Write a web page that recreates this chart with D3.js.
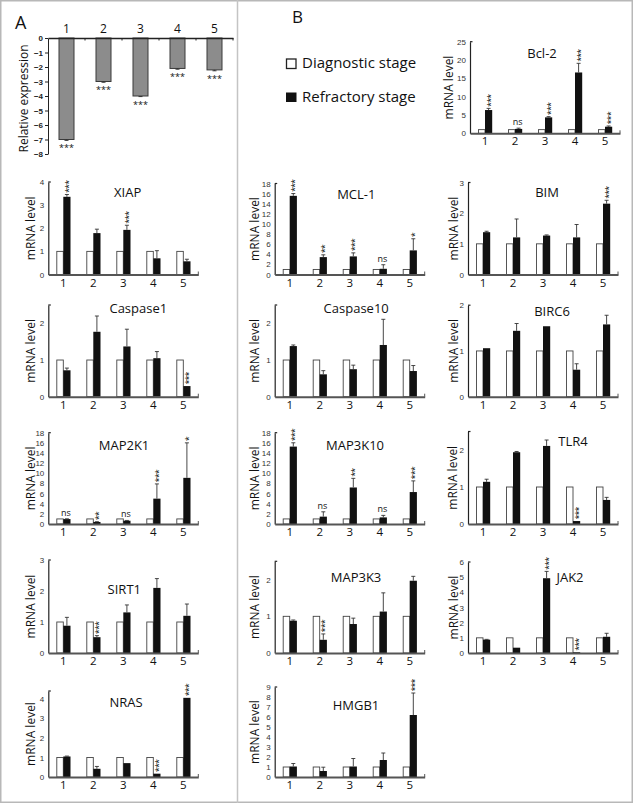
<!DOCTYPE html>
<html><head><meta charset="utf-8">
<script src="https://cdn.jsdelivr.net/npm/d3@7"></script>
<style>
body{margin:0;background:#fff}
svg{display:block}
text{font-family:"Open Sans",sans-serif;fill:#111}
.tick text{font-family:"Liberation Sans",Arial,sans-serif;fill:#333}
</style>
</head><body>
<svg id="c" width="633" height="803"></svg>
<script>
// ---------- DATA ----------
const categories = ["1","2","3","4","5"];

// Panel A: relative expression
const relExpression    = [-7.0, -3.0, -4.0, -2.1, -2.2];
const relExpressionErr = [0.06, 0.05, 0.04, 0.05, 0.06];
const relSig           = ["***","***","***","***","***"];
const relTicks         = [0,-1,-2,-3,-4,-5,-6,-7,-8];

// Panel B: mRNA levels (diagnostic stage = 1, refractory stage values below)
const genes = ["Bcl-2","XIAP","MCL-1","BIM","Caspase1","Caspase10","BIRC6","MAP2K1","MAP3K10","TLR4","SIRT1","MAP3K3","JAK2","NRAS","HMGB1"];
const diagnostic = [1, 1, 1, 1, 1];

const bcl2      = [6.35, 1.2, 4.35, 16.6, 1.8];
const xiap      = [3.36, 1.79, 1.93, 0.70, 0.57];
const mcl1      = [15.56, 3.44, 3.58, 1.13, 4.77];
const bim       = [1.38, 1.21, 1.27, 1.21, 2.31];
const caspase1  = [0.72, 1.77, 1.37, 1.05, 0.29];
const caspase10 = [1.38, 0.61, 0.75, 1.41, 0.70];
const birc6     = [1.06, 1.44, 1.54, 0.59, 1.58];
const map2k1    = [0.97, 0.40, 0.65, 5.0, 9.1];
const map3k10   = [15.26, 1.45, 7.2, 1.3, 6.3];
const tlr4      = [1.14, 1.94, 2.11, 0.08, 0.65];
const sirt1     = [0.88, 0.51, 1.31, 2.10, 1.20];
const map3k3    = [0.88, 0.36, 0.79, 1.13, 1.97];
const jak2      = [0.88, 0.35, 4.93, 0.05, 1.07];
const nras      = [1.05, 0.42, 0.71, 0.17, 4.05];
const hmgb1     = [1.05, 0.60, 1.05, 1.70, 6.2];

const bcl2Err      = [0.45, 0.2, 0.2, 2.5, 0.2];
const xiapErr      = [0.10, 0.17, 0.20, 0.33, 0.09];
const mcl1Err      = [0.45, 0.45, 0.70, 0.80, 2.3];
const bimErr       = [0.03, 0.60, 0.02, 0.42, 0.11];
const caspase1Err  = [0.06, 0.43, 0.47, 0.18, 0.0];
const caspase10Err = [0.03, 0.10, 0.11, 0.70, 0.15];
const birc6Err     = [0.0, 0.16, 0.0, 0.13, 0.20];
const map2k1Err    = [0.05, 0.05, 0.05, 2.9, 6.9];
const map3k10Err   = [0.75, 0.95, 1.8, 0.4, 2.2];
const tlr4Err      = [0.07, 0.02, 0.16, 0.0, 0.07];
const sirt1Err     = [0.27, 0.05, 0.24, 0.30, 0.38];
const map3k3Err    = [0.02, 0.16, 0.16, 0.51, 0.12];
const jak2Err      = [0.02, 0.0, 0.45, 0.0, 0.23];
const nrasErr      = [0.02, 0.12, 0.0, 0.0, 0.0];
const hmgb1Err     = [0.30, 0.38, 0.80, 0.70, 2.2];

const bcl2Sig      = ["***","ns","***","***","***"];
const xiapSig      = ["***","","***","",""];
const mcl1Sig      = ["***","**","***","ns","*"];
const bimSig       = ["","","","","***"];
const caspase1Sig  = ["","","","","***"];
const caspase10Sig = ["","","","",""];
const birc6Sig     = ["","","","",""];
const map2k1Sig    = ["ns","**","ns","***","*"];
const map3k10Sig   = ["***","ns","**","ns","***"];
const tlr4Sig      = ["","","","***",""];
const sirt1Sig     = ["","***","","",""];
const map3k3Sig    = ["","***","","",""];
const jak2Sig      = ["","","***","***",""];
const nrasSig      = ["","","","***","***"];
const hmgb1Sig     = ["","","","","***"];

const geneMax  = [25, 4, 18, 3, 2.5, 2.5, 2, 18, 18, 2.5, 3, 2.5, 6, 4.4, 9];
const geneStep = [5, 1, 2, 1, 1, 1, 1, 2, 2, 1, 1, 1, 1, 1, 1];

const refractory    = [bcl2, xiap, mcl1, bim, caspase1, caspase10, birc6, map2k1, map3k10, tlr4, sirt1, map3k3, jak2, nras, hmgb1];
const refractoryErr = [bcl2Err, xiapErr, mcl1Err, bimErr, caspase1Err, caspase10Err, birc6Err, map2k1Err, map3k10Err, tlr4Err, sirt1Err, map3k3Err, jak2Err, nrasErr, hmgb1Err];
const significance  = [bcl2Sig, xiapSig, mcl1Sig, bimSig, caspase1Sig, caspase10Sig, birc6Sig, map2k1Sig, map3k10Sig, tlr4Sig, sirt1Sig, map3k3Sig, jak2Sig, nrasSig, hmgb1Sig];

// ---------- LAYOUT ----------
const layout = [
 {ax:470,   zy:133.3, h:91.6, tdx:72,   tdy:-75.3, ldx:-22},  // Bcl-2
 {ax:48.3,  zy:274.5, h:92.5, tdx:79.4, tdy:-77.3, ldx:-18},  // XIAP
 {ax:274.7, zy:274.5, h:91,   tdx:81.6, tdy:-76,   ldx:-20},  // MCL-1
 {ax:468,   zy:274.5, h:92,   tdx:79,   tdy:-78,   ldx:-14.5},// BIM
 {ax:48.3,  zy:396.7, h:91.7, tdx:90,   tdy:-83.5, ldx:-18},  // Caspase1
 {ax:274.7, zy:396.7, h:91.7, tdx:81.5, tdy:-83.7, ldx:-20},  // Caspase10
 {ax:468,   zy:396.7, h:91.5, tdx:84,   tdy:-81,   ldx:-14.5},// BIRC6
 {ax:48.3,  zy:524,   h:91.3, tdx:75.7, tdy:-74,   ldx:-18},  // MAP2K1
 {ax:274.7, zy:524,   h:91.3, tdx:80.3, tdy:-74,   ldx:-20},  // MAP3K10
 {ax:468,   zy:524,   h:92.5, tdx:105,  tdy:-78,   ldx:-16},  // TLR4
 {ax:48.3,  zy:653,   h:93,   tdx:76,   tdy:-59,   ldx:-18},  // SIRT1
 {ax:274.7, zy:653,   h:91.7, tdx:81.3, tdy:-70.7, ldx:-20},  // MAP3K3
 {ax:468,   zy:653,   h:91,   tdx:102,  tdy:-71,   ldx:-15},  // JAK2
 {ax:48.3,  zy:777,   h:86,   tdx:77.7, tdy:-70.3, ldx:-18},  // NRAS
 {ax:274.7, zy:777,   h:90,   tdx:81.3, tdy:-67,   ldx:-20},  // HMGB1
];

const svg = d3.select("#c");
svg.append("rect").attr("width",633).attr("height",803).attr("fill","#fff");
svg.append("rect").attr("x",0.75).attr("y",0.75).attr("width",631.5).attr("height",801.5)
   .attr("fill","none").attr("stroke","#b8b8b8").attr("stroke-width",1.5);
svg.append("line").attr("x1",237.5).attr("x2",237.5).attr("y1",0).attr("y2",803)
   .attr("stroke","#c4c4c4").attr("stroke-width",1.5);

// vertical stars: one rotated text reading upward from just above the bar/error bar
function stars(g, cx, bottomY, s) {
  const fs = 9;
  g.append("text")
   .attr("transform", `translate(${cx + 0.56 * fs},${bottomY - 1.5}) rotate(-90)`)
   .attr("font-size", fs).attr("letter-spacing", -0.9).attr("fill","#222").text(s);
}

// ---------- PANEL A ----------
(function(){
  const g = svg.append("g");
  const x = d3.scaleBand().domain(categories).range([48, 233]);
  const y = d3.scaleLinear().domain([-8, 0]).range([154, 38]);
  g.append("text").attr("x",15).attr("y",28.5).attr("font-size",18).text("A");
  g.append("text").attr("transform","translate(27.5,98.5) rotate(-90)")
   .attr("text-anchor","middle").attr("font-size",12).text("Relative expression");
  const ya = g.append("g").attr("transform","translate(48,0)")
   .call(d3.axisLeft(y).tickValues(relTicks).tickSize(3).tickSizeOuter(0).tickPadding(2).tickFormat(d3.format("d")));
  ya.selectAll(".tick text").attr("font-size",8).attr("font-weight","bold").style("fill","#222");
  ya.selectAll("line,path").attr("stroke","#222");
  const bw = 15;
  categories.forEach((c,i)=>{
    const cx = x(c) + x.bandwidth()/2;
    const v = relExpression[i];
    g.append("rect").attr("x",cx-bw/2).attr("y",y(0)).attr("width",bw).attr("height",y(v)-y(0))
     .attr("fill","#8c8c8c").attr("stroke","#3a3a3a").attr("stroke-width",1);
    const ye = y(v - relExpressionErr[i]);
    g.append("line").attr("x1",cx).attr("x2",cx).attr("y1",y(v)).attr("y2",ye).attr("stroke","#333");
    g.append("line").attr("x1",cx-2).attr("x2",cx+2).attr("y1",ye).attr("y2",ye).attr("stroke","#333");
    g.append("text").attr("x",cx).attr("y",ye + 6 + 0.56*9).attr("text-anchor","middle")
     .attr("font-size",9).attr("fill","#222").text(relSig[i]);
  });
  const xa = g.append("g").attr("transform",`translate(0,${y(0)})`)
   .call(d3.axisTop(x).tickSize(0).tickPadding(5));
  xa.select(".domain").attr("stroke","#222").attr("stroke-width",1.5);
  xa.selectAll(".tick text").attr("font-size",12).style("fill","#111")
   .style("font-family","'Open Sans',sans-serif");
  categories.slice(1).forEach(c=>{
    g.append("line").attr("x1",x(c)).attr("x2",x(c)).attr("y1",y(0)).attr("y2",y(0)+2.5).attr("stroke","#222");
  });
  g.append("line").attr("x1",233).attr("x2",233).attr("y1",y(0)).attr("y2",y(0)+2.5).attr("stroke","#222");
})();

// ---------- PANEL B ----------
svg.append("text").attr("x",292).attr("y",22.5).attr("font-size",17).text("B");
svg.append("rect").attr("x",286.5).attr("y",59).attr("width",9.5).attr("height",9.5)
   .attr("fill","#fff").attr("stroke","#222").attr("stroke-width",1.3);
svg.append("text").attr("x",302).attr("y",68).attr("font-size",15).text("Diagnostic stage");
svg.append("rect").attr("x",286).attr("y",92.5).attr("width",10.5).attr("height",9.5).attr("fill","#111");
svg.append("text").attr("x",302).attr("y",102).attr("font-size",15).text("Refractory stage");

genes.forEach((name, i) => {
  const L = layout[i];
  const g = svg.append("g");
  const x = d3.scaleBand().domain(categories).range([L.ax, L.ax + 150]);
  const y = d3.scaleLinear().domain([0, geneMax[i]]).range([L.zy, L.zy - L.h]);
  const ticks = d3.range(0, geneMax[i] + 1e-9, geneStep[i]);

  const vals = refractory[i], errs = refractoryErr[i], sig = significance[i];
  categories.forEach((c, k) => {
    const cx = x(c) + x.bandwidth()/2;
    g.append("rect").attr("x", cx - 6.5).attr("y", y(diagnostic[k])).attr("width", 6.5)
     .attr("height", y(0) - y(diagnostic[k])).attr("fill","#fff").attr("stroke","#444").attr("stroke-width",0.9);
    g.append("rect").attr("x", cx).attr("y", y(vals[k])).attr("width", 7.2)
     .attr("height", y(0) - y(vals[k])).attr("fill","#111");
    const bc = cx + 3.6;
    const topY = y(vals[k] + errs[k]);
    if (errs[k] > 0) {
      g.append("line").attr("x1",bc).attr("x2",bc).attr("y1",y(vals[k])).attr("y2",topY)
       .attr("stroke","#333").attr("stroke-width",0.9);
      g.append("line").attr("x1",bc-2).attr("x2",bc+2).attr("y1",topY).attr("y2",topY)
       .attr("stroke","#333").attr("stroke-width",0.9);
    }
    if (sig[k] === "ns") {
      g.append("text").attr("x", bc - 1).attr("y", topY - 3).attr("text-anchor","middle")
       .attr("font-size", 9).attr("fill","#333").text("ns");
    } else if (sig[k]) {
      stars(g, bc, topY, sig[k]);
    }
  });

  const ya = g.append("g").attr("transform",`translate(${L.ax},0)`)
   .call(d3.axisLeft(y).tickValues(ticks).tickSize(0).tickSizeOuter(0).tickPadding(4).tickFormat(d3.format("d")));
  ya.select(".domain").attr("stroke","#222").attr("stroke-width",1.2);
  ya.selectAll(".tick text").attr("font-size",8);
  g.append("line").attr("x1",L.ax).attr("x2",L.ax+2.5).attr("y1",L.zy-L.h).attr("y2",L.zy-L.h)
   .attr("stroke","#222").attr("stroke-width",1.2);

  const xa = g.append("g").attr("transform",`translate(0,${L.zy})`)
   .call(d3.axisBottom(x).tickSize(0).tickSizeOuter(0).tickPadding(4));
  xa.select(".domain").attr("stroke","#555").attr("stroke-width",2);
  xa.selectAll(".tick text").attr("font-size",11.5).style("fill","#111")
   .style("font-family","'Open Sans',sans-serif");
  g.append("line").attr("x1",L.ax+150).attr("x2",L.ax+150).attr("y1",L.zy).attr("y2",L.zy-3)
   .attr("stroke","#555").attr("stroke-width",1);

  g.append("text").attr("x", L.ax + L.tdx).attr("y", L.zy + L.tdy)
   .attr("text-anchor","middle").attr("font-size",13).text(name);
  g.append("text").attr("transform",`translate(${L.ax + L.ldx + 4.5},${L.zy - L.h/2}) rotate(-90)`)
   .attr("text-anchor","middle").attr("font-size",12).text("mRNA level");
});
</script>
</body></html>
